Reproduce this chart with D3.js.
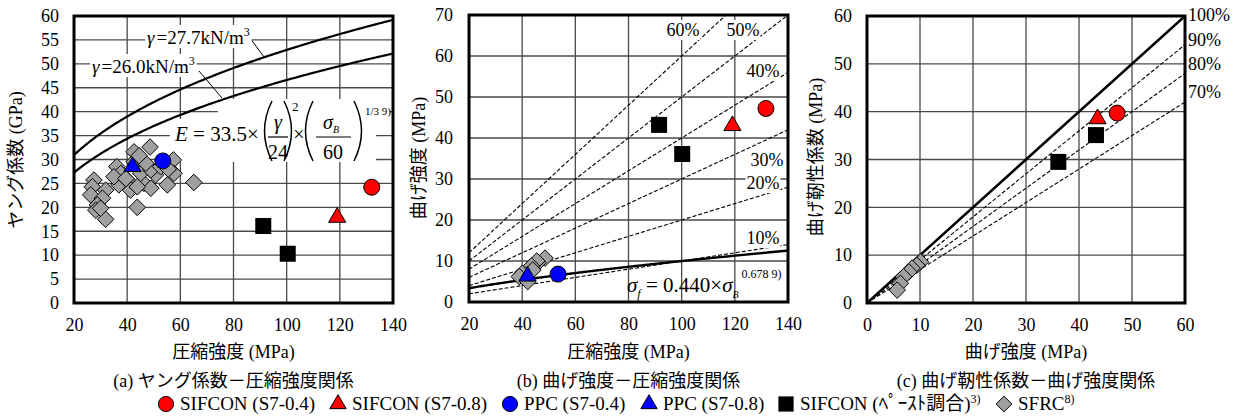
<!DOCTYPE html>
<html>
<head>
<meta charset="utf-8">
<script src="https://cdn.jsdelivr.net/npm/d3@7"></script>
<style>
  body { margin: 0; background: #fff; }
  svg text { font-family: "Liberation Serif", "Noto Sans CJK JP", serif; fill: #000; }
</style>
</head>
<body>
<svg id="chart" width="1242" height="417"></svg>
<script>
// ---- data ----
// (a) Young's modulus (GPa) vs compressive strength (MPa)
const aSifcon04 = [[132.0, 24.2]];
const aSifcon08 = [[119.0, 17.9]];
const aPpc04 = [[53.4, 29.7]];
const aPpc08 = [[42.0, 28.5]];
const aPaste = [[91.2, 16.1], [100.4, 10.3]];
const aSfrcX = [48.6, 42.6, 42.6, 36.1, 57.4, 65.1, 43.8, 27.5, 26.9, 31.9, 26.3, 30.7, 28.8, 28.2, 31.9,
                36.9, 40.0, 41.3, 46.3, 48.9, 50.7, 55.1, 57.6, 37.6, 45.1, 48.9, 52.6, 47.0, 43.8, 35.0,
                39.5, 30.0, 44.5, 55.5];
const aSfrcY = [32.6, 31.6, 29.5, 28.5, 29.9, 25.2, 20.0, 25.7, 24.3, 23.6, 22.6, 21.9, 20.5, 19.4, 17.5,
                24.7, 25.7, 23.6, 25.0, 24.0, 26.8, 24.7, 27.1, 27.1, 27.1, 27.8, 28.5, 29.2, 24.3, 26.4,
                26.0, 19.8, 30.8, 28.0];
const aGamma = [27.7, 26.0];

// (b) flexural strength (MPa) vs compressive strength (MPa)
const bSifcon04 = [[131.7, 47.2]];
const bSifcon08 = [[119.1, 43.0]];
const bPpc04 = [[53.5, 6.8]];
const bPpc08 = [[42.0, 6.3]];
const bPaste = [[91.5, 43.2], [100.2, 36.1]];
const bSfrcX = [48.6, 46.0, 45.5, 43.5, 44.0, 40.1, 38.9, 42.1];
const bSfrcY = [10.7, 9.6, 10.0, 8.8, 7.8, 7.0, 6.2, 5.0];
const bRatios = [10, 20, 30, 40, 50, 60];

// (c) flexural toughness (MPa) vs flexural strength (MPa)
const cSifcon04 = [[47.2, 39.7]];
const cSifcon08 = [[43.5, 38.5]];
const cPaste = [[43.2, 35.1], [36.1, 29.5]];
const cSfrcX = [10.1, 9.4, 8.5, 7.9, 6.9, 6.3, 5.7];
const cSfrcY = [8.6, 7.9, 7.3, 6.5, 5.5, 4.1, 2.7];
const cRatios = [100, 90, 80, 70];

const legendNames = ["SIFCON (S7-0.4)", "SIFCON (S7-0.8)", "PPC (S7-0.4)", "PPC (S7-0.8)", "SIFCON (ﾍﾟｰｽﾄ調合)", "SFRC"];
const legendRefs = ["", "", "", "", "3)", "8)"];

// ---- drawing ----
const svg = d3.select('#chart');
const GRID = '#4a4a4a';
const SERIF = '"Liberation Serif", "Noto Sans CJK JP", serif';

function marker(g, type, px, py, s) {
  s = s || 1;
  if (type === 'circle-red' || type === 'circle-blue') {
    g.append('circle').attr('cx', px).attr('cy', py).attr('r', 8 * s)
      .attr('fill', type === 'circle-red' ? '#ff0000' : '#0000ff').attr('stroke', '#000').attr('stroke-width', 1);
  } else if (type === 'tri-red' || type === 'tri-blue') {
    const h = 9.8 * s, w = 8.6 * s;
    g.append('path').attr('d', `M${px},${py - h}L${px + w},${py + h / 2}L${px - w},${py + h / 2}Z`)
      .attr('fill', type === 'tri-red' ? '#ff0000' : '#0000ff').attr('stroke', '#000').attr('stroke-width', 1);
  } else if (type === 'square') {
    const a = 8 * s;
    g.append('rect').attr('x', px - a).attr('y', py - a).attr('width', 2 * a).attr('height', 2 * a).attr('fill', '#000');
  } else if (type === 'diamond') {
    const d = 8.3 * s;
    g.append('path').attr('d', `M${px},${py - d}L${px + d},${py}L${px},${py + d}L${px - d},${py}Z`)
      .attr('fill', '#a0a0a0').attr('stroke', '#000').attr('stroke-width', 1);
  }
}

function panel(id, cfg) {
  const x = d3.scaleLinear().domain(cfg.xd).range([cfg.left, cfg.right]);
  const y = d3.scaleLinear().domain(cfg.yd).range([cfg.bottom, cfg.top]);
  const g = svg.append('g');
  g.append('clipPath').attr('id', 'clip-' + id).append('rect')
    .attr('x', cfg.left).attr('y', cfg.top).attr('width', cfg.right - cfg.left).attr('height', cfg.bottom - cfg.top);

  g.append('g').selectAll('line').data(cfg.xTicks).join('line')
    .attr('x1', d => x(d)).attr('x2', d => x(d)).attr('y1', cfg.top).attr('y2', cfg.bottom)
    .attr('stroke', GRID).attr('stroke-width', 1.3);
  g.append('g').selectAll('line').data(cfg.yTicks).join('line')
    .attr('y1', d => y(d)).attr('y2', d => y(d)).attr('x1', cfg.left).attr('x2', cfg.right)
    .attr('stroke', GRID).attr('stroke-width', 1.3);

  const xa = g.append('g').attr('transform', `translate(0,${cfg.bottom})`)
    .call(d3.axisBottom(x).tickValues(cfg.xTicks).tickSize(0).tickPadding(15));
  const ya = g.append('g').attr('transform', `translate(${cfg.left},0)`)
    .call(d3.axisLeft(y).tickValues(cfg.yTicks).tickSize(0).tickPadding(cfg.yPad));
  [xa, ya].forEach(a => {
    a.select('.domain').remove();
    a.attr('font-size', 18).attr('font-family', null);
    a.selectAll('text').style('font-family', '"Liberation Serif", serif').style('font-size', '18px').attr('fill', '#000');
  });

  g.append('text').attr('x', (cfg.left + cfg.right) / 2).attr('y', 358)
    .attr('text-anchor', 'middle').attr('font-size', 18).style('font-family', SERIF).text(cfg.xTitle);
  g.append('text').attr('transform', `translate(${cfg.yTitleX},${cfg.yTitleY}) rotate(-90)`)
    .attr('text-anchor', 'middle').attr('dominant-baseline', 'central').attr('font-size', 18)
    .style('font-family', SERIF).text(cfg.yTitle);
  g.append('text').attr('x', (cfg.left + cfg.right) / 2).attr('y', 387)
    .attr('text-anchor', 'middle').attr('font-size', 18).style('font-family', SERIF)
    .text(cfg.caption);

  const bg = g.append('g');
  const lines = g.append('g').attr('clip-path', `url(#clip-${id})`);
  const labels = g.append('g');
  g.append('rect').attr('x', cfg.left).attr('y', cfg.top)
    .attr('width', cfg.right - cfg.left).attr('height', cfg.bottom - cfg.top)
    .attr('fill', 'none').attr('stroke', '#000').attr('stroke-width', 3);
  const marks = g.append('g');
  return { x, y, g, bg, lines, labels, marks };
}

function withBg(layer, textSel, pad) {
  const b = textSel.node().getBBox();
  layer.insert('rect', () => textSel.node())
    .attr('x', b.x - pad).attr('y', b.y).attr('width', b.width + 2 * pad).attr('height', b.height)
    .attr('fill', '#fff');
}

// ---------- panel (a) ----------
const pa = panel('a', {
  xd: [20, 140], yd: [0, 60], left: 74, right: 393, top: 16, bottom: 303,
  xTicks: d3.range(20, 141, 20), yTicks: d3.range(0, 61, 5), yPad: 15,
  xTitle: '圧縮強度 (MPa)', yTitle: 'ヤング係数 (GPa)', yTitleX: 16, yTitleY: 160,
  caption: '(a)  ヤング係数－圧縮強度関係'
});
// white box behind the formula (under the curves)
pa.bg.append('rect').attr('x', 218).attr('y', 99).attr('width', 158).attr('height', 22).attr('fill', '#fff');
pa.bg.append('rect').attr('x', 170).attr('y', 119).attr('width', 206).attr('height', 43).attr('fill', '#fff');
pa.bg.append('rect').attr('x', 363).attr('y', 103).attr('width', 27).attr('height', 14).attr('fill', '#fff');

const xs = d3.range(20, 140.5, 0.5);
aGamma.forEach(gm => {
  const line = d3.line().x(d => pa.x(d)).y(d => pa.y(33.5 * Math.pow(gm / 24, 2) * Math.cbrt(d / 60)));
  pa.lines.append('path').attr('d', line(xs)).attr('fill', 'none').attr('stroke', '#000').attr('stroke-width', 2.2);
});
// gamma labels with leaders
[[147, 44, '27.7', [250, 38, 264, 57]], [92, 73, '26.0', [199, 71, 222, 98]]].forEach(([lx, ly, v, ld]) => {
  pa.labels.append('line').attr('x1', ld[0]).attr('y1', ld[1]).attr('x2', ld[2]).attr('y2', ld[3])
    .attr('stroke', '#000').attr('stroke-width', 1);
  const t = pa.labels.append('text').attr('x', lx).attr('y', ly).attr('font-size', 19);
  t.append('tspan').attr('font-style', 'italic').text('γ');
  t.append('tspan').attr('dx', 2).text('=' + v + 'kN/m');
  t.append('tspan').attr('dy', -8).attr('font-size', 12).text('3');
  withBg(pa.labels, t, 2);
});
// formula
const fa = pa.labels.append('g');
const fe = fa.append('text').attr('x', 175).attr('y', 141).attr('font-size', 21);
fe.append('tspan').attr('font-style', 'italic').text('E');
fe.append('tspan').text(' = 33.5×');
function paren(gp, x0, left) {
  const dx = left ? -15 : 15;
  gp.append('path').attr('d', `M${x0},101Q${x0 + dx},131 ${x0},161`)
    .attr('fill', 'none').attr('stroke', '#000').attr('stroke-width', 1.5);
}
paren(fa, 272, true); paren(fa, 284, false);
fa.append('text').attr('x', 278).attr('y', 129).attr('text-anchor', 'middle').attr('font-size', 20).attr('font-style', 'italic').text('γ');
fa.append('line').attr('x1', 268).attr('x2', 288).attr('y1', 137).attr('y2', 137).attr('stroke', '#000').attr('stroke-width', 1.2);
fa.append('text').attr('x', 278).attr('y', 159).attr('text-anchor', 'middle').attr('font-size', 20).text('24');
fa.append('text').attr('x', 292).attr('y', 111).attr('font-size', 13).text('2');
fa.append('text').attr('x', 299).attr('y', 141).attr('text-anchor', 'middle').attr('font-size', 20).text('×');
paren(fa, 313, true); paren(fa, 354, false);
const fs = fa.append('text').attr('x', 331).attr('y', 129).attr('text-anchor', 'middle').attr('font-size', 20);
fs.append('tspan').attr('font-style', 'italic').text('σ');
fs.append('tspan').attr('dy', 4).attr('font-size', 10).attr('font-style', 'italic').text('B');
fa.append('line').attr('x1', 316).attr('x2', 351).attr('y1', 137).attr('y2', 137).attr('stroke', '#000').attr('stroke-width', 1.2);
fa.append('text').attr('x', 333).attr('y', 159).attr('text-anchor', 'middle').attr('font-size', 20).text('60');
fa.append('text').attr('x', 365).attr('y', 115).attr('font-size', 11).text('1/3 9)');

aSfrcX.forEach((v, i) => marker(pa.marks, 'diamond', pa.x(v), pa.y(aSfrcY[i])));
aPaste.forEach(d => marker(pa.marks, 'square', pa.x(d[0]), pa.y(d[1])));
aSifcon04.forEach(d => marker(pa.marks, 'circle-red', pa.x(d[0]), pa.y(d[1])));
aSifcon08.forEach(d => marker(pa.marks, 'tri-red', pa.x(d[0]), pa.y(d[1])));
aPpc04.forEach(d => marker(pa.marks, 'circle-blue', pa.x(d[0]), pa.y(d[1])));
aPpc08.forEach(d => marker(pa.marks, 'tri-blue', pa.x(d[0]), pa.y(d[1])));

// ---------- panel (b) ----------
const pb = panel('b', {
  xd: [20, 140], yd: [0, 70], left: 469, right: 788, top: 15, bottom: 302,
  xTicks: d3.range(20, 141, 20), yTicks: d3.range(0, 71, 10), yPad: 16,
  xTitle: '圧縮強度 (MPa)', yTitle: '曲げ強度 (MPa)', yTitleX: 419, yTitleY: 158,
  caption: '(b)  曲げ強度－圧縮強度関係'
});
bRatios.forEach(r => {
  pb.lines.append('line').attr('x1', pb.x(20)).attr('y1', pb.y(0.2 * r)).attr('x2', pb.x(140)).attr('y2', pb.y(1.4 * r))
    .attr('stroke', '#000').attr('stroke-width', 1.1).attr('stroke-dasharray', '4,2');
});
pb.lines.append('path')
  .attr('d', d3.line().x(d => pb.x(d)).y(d => pb.y(0.44 * Math.pow(d, 0.678)))(xs))
  .attr('fill', 'none').attr('stroke', '#000').attr('stroke-width', 2.4);
const bLabelPos = { 60: [683, 36], 50: [743, 36], 40: [763, 77], 30: [767, 166], 20: [763, 189], 10: [763, 244] };
bRatios.forEach(r => {
  const t = pb.labels.append('text').attr('x', bLabelPos[r][0]).attr('y', bLabelPos[r][1])
    .attr('text-anchor', 'middle').attr('font-size', 18).text(r + '%');
  withBg(pb.labels, t, 1);
});
const fb = pb.labels.append('text').attr('x', 627).attr('y', 292).attr('font-size', 21);
fb.append('tspan').attr('font-style', 'italic').text('σ');
fb.append('tspan').attr('dy', 6).attr('font-size', 12).attr('font-style', 'italic').text('f');
fb.append('tspan').attr('dy', -6).text(' = 0.440×');
fb.append('tspan').attr('font-style', 'italic').text('σ');
fb.append('tspan').attr('dy', 6).attr('font-size', 10).attr('font-style', 'italic').text('B');
fb.append('tspan').attr('dy', -20).attr('dx', 3).attr('font-size', 12).text('0.678 9)');

bSfrcX.forEach((v, i) => marker(pb.marks, 'diamond', pb.x(v), pb.y(bSfrcY[i])));
bPaste.forEach(d => marker(pb.marks, 'square', pb.x(d[0]), pb.y(d[1])));
bSifcon04.forEach(d => marker(pb.marks, 'circle-red', pb.x(d[0]), pb.y(d[1])));
bSifcon08.forEach(d => marker(pb.marks, 'tri-red', pb.x(d[0]), pb.y(d[1])));
bPpc04.forEach(d => marker(pb.marks, 'circle-blue', pb.x(d[0]), pb.y(d[1])));
bPpc08.forEach(d => marker(pb.marks, 'tri-blue', pb.x(d[0]), pb.y(d[1])));

// ---------- panel (c) ----------
const pc = panel('c', {
  xd: [0, 60], yd: [0, 60], left: 867, right: 1185, top: 16, bottom: 303,
  xTicks: d3.range(0, 61, 10), yTicks: d3.range(0, 61, 10), yPad: 15,
  xTitle: '曲げ強度 (MPa)', yTitle: '曲げ靭性係数 (MPa)', yTitleX: 816, yTitleY: 157,
  caption: '(c)  曲げ靭性係数－曲げ強度関係'
});
cRatios.forEach(r => {
  pc.lines.append('line').attr('x1', pc.x(0)).attr('y1', pc.y(0)).attr('x2', pc.x(60)).attr('y2', pc.y(0.6 * r))
    .attr('stroke', '#000').attr('stroke-width', r === 100 ? 2.5 : 1.1)
    .attr('stroke-dasharray', r === 100 ? null : '4,2');
});
const cLabelY = { 100: 21, 90: 46, 80: 70, 70: 98 };
cRatios.forEach(r => {
  pc.labels.append('text').attr('x', 1188).attr('y', cLabelY[r]).attr('font-size', 18).text(r + '%');
});
cSfrcX.forEach((v, i) => marker(pc.marks, 'diamond', pc.x(v), pc.y(cSfrcY[i])));
cPaste.forEach(d => marker(pc.marks, 'square', pc.x(d[0]), pc.y(d[1])));
cSifcon08.forEach(d => marker(pc.marks, 'tri-red', pc.x(d[0]), pc.y(d[1])));
cSifcon04.forEach(d => marker(pc.marks, 'circle-red', pc.x(d[0]), pc.y(d[1])));

// ---------- legend ----------
const legendTypes = ['circle-red', 'tri-red', 'circle-blue', 'tri-blue', 'square', 'diamond'];
const legendX = [166, 338, 510, 649, 786, 1004];
const lg = svg.append('g');
legendNames.forEach((n, i) => {
  marker(lg, legendTypes[i], legendX[i], 404, 0.95);
  const t = lg.append('text').attr('x', legendX[i] + 14).attr('y', 410).attr('font-size', 19).style('font-family', SERIF);
  t.append('tspan').text(n);
  if (legendRefs[i]) t.append('tspan').attr('dy', -7).attr('font-size', 12).text(legendRefs[i]);
});
</script>
</body>
</html>
